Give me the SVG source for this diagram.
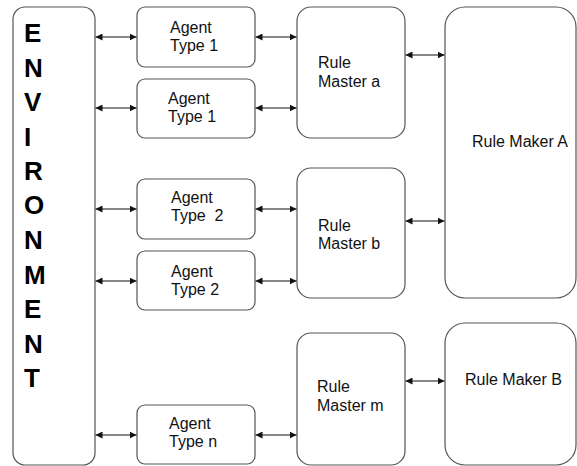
<svg xmlns="http://www.w3.org/2000/svg" width="577" height="466" viewBox="0 0 577 466">
<defs>
<marker id="ah" viewBox="0 0 8 8" refX="8" refY="4" markerWidth="7" markerHeight="7" markerUnits="userSpaceOnUse" orient="auto-start-reverse">
<path d="M0,0 L8,4 L0,8 z" fill="#111"/>
</marker>
</defs>
<style>
.box{fill:#fff;stroke:#555;stroke-width:1.2}
.t{font-family:"Liberation Sans",Arial,sans-serif;font-size:16px;fill:#111}
.env{font-family:"Liberation Sans",Arial,sans-serif;font-size:26px;font-weight:bold;fill:#000}
.c{stroke:#111;stroke-width:1;fill:none;marker-start:url(#ah);marker-end:url(#ah)}
</style>
<rect width="577" height="466" fill="#fff"/>
<g id="environment">
<rect class="box" x="13" y="7" width="82" height="458" rx="12"/>
<text class="env" x="24" y="42">E</text>
<text class="env" x="24" y="77">N</text>
<text class="env" x="24" y="111">V</text>
<text class="env" x="24" y="146">I</text>
<text class="env" x="24" y="180">R</text>
<text class="env" x="24" y="214">O</text>
<text class="env" x="24" y="249">N</text>
<text class="env" x="24" y="284">M</text>
<text class="env" x="24" y="318">E</text>
<text class="env" x="24" y="353">N</text>
<text class="env" x="24" y="387">T</text>
</g>
<g id="agent1a">
<rect class="box" x="137" y="7" width="118" height="60" rx="8"/>
<text class="t" x="170" y="33">Agent</text>
<text class="t" x="170" y="51">Type 1</text>
</g>
<g id="agent1b">
<rect class="box" x="137" y="79" width="118" height="59" rx="8"/>
<text class="t" x="168" y="104">Agent</text>
<text class="t" x="168" y="122">Type 1</text>
</g>
<g id="agent2a">
<rect class="box" x="137" y="179" width="118" height="60" rx="8"/>
<text class="t" x="171" y="203">Agent</text>
<text class="t" x="171" y="221" style="white-space:pre">Type  2</text>
</g>
<g id="agent2b">
<rect class="box" x="137" y="251" width="118" height="59" rx="8"/>
<text class="t" x="171" y="277">Agent</text>
<text class="t" x="171" y="295">Type 2</text>
</g>
<g id="agentn">
<rect class="box" x="137" y="405" width="118" height="59" rx="8"/>
<text class="t" x="169" y="429">Agent</text>
<text class="t" x="169" y="447">Type n</text>
</g>
<g id="masterA">
<rect class="box" x="297" y="7" width="108" height="131" rx="14"/>
<text class="t" x="318" y="68">Rule</text>
<text class="t" x="318" y="87">Master a</text>
</g>
<g id="masterB">
<rect class="box" x="297" y="168" width="108" height="130" rx="14"/>
<text class="t" x="318" y="231">Rule</text>
<text class="t" x="318" y="249">Master b</text>
</g>
<g id="masterM">
<rect class="box" x="297" y="333" width="108" height="132" rx="14"/>
<text class="t" x="317" y="392">Rule</text>
<text class="t" x="317" y="411">Master m</text>
</g>
<g id="makerA">
<rect class="box" x="445" y="7" width="131" height="291" rx="20"/>
<text class="t" x="472" y="147">Rule Maker A</text>
</g>
<g id="makerB">
<rect class="box" x="445" y="323" width="131" height="142" rx="20"/>
<text class="t" x="465" y="385">Rule Maker B</text>
</g>
<g id="connectors">
<line class="c" x1="95.5" y1="37" x2="136.5" y2="37"/>
<line class="c" x1="95.5" y1="108" x2="136.5" y2="108"/>
<line class="c" x1="95.5" y1="209" x2="136.5" y2="209"/>
<line class="c" x1="95.5" y1="281" x2="136.5" y2="281"/>
<line class="c" x1="95.5" y1="435" x2="136.5" y2="435"/>
<line class="c" x1="255.5" y1="37" x2="296.5" y2="37"/>
<line class="c" x1="255.5" y1="108" x2="296.5" y2="108"/>
<line class="c" x1="255.5" y1="209" x2="296.5" y2="209"/>
<line class="c" x1="255.5" y1="281" x2="296.5" y2="281"/>
<line class="c" x1="255.5" y1="435" x2="296.5" y2="435"/>
<line class="c" x1="405.5" y1="55" x2="444.5" y2="55"/>
<line class="c" x1="405.5" y1="221" x2="444.5" y2="221"/>
<line class="c" x1="405.5" y1="381" x2="444.5" y2="381"/>
</g>
</svg>
